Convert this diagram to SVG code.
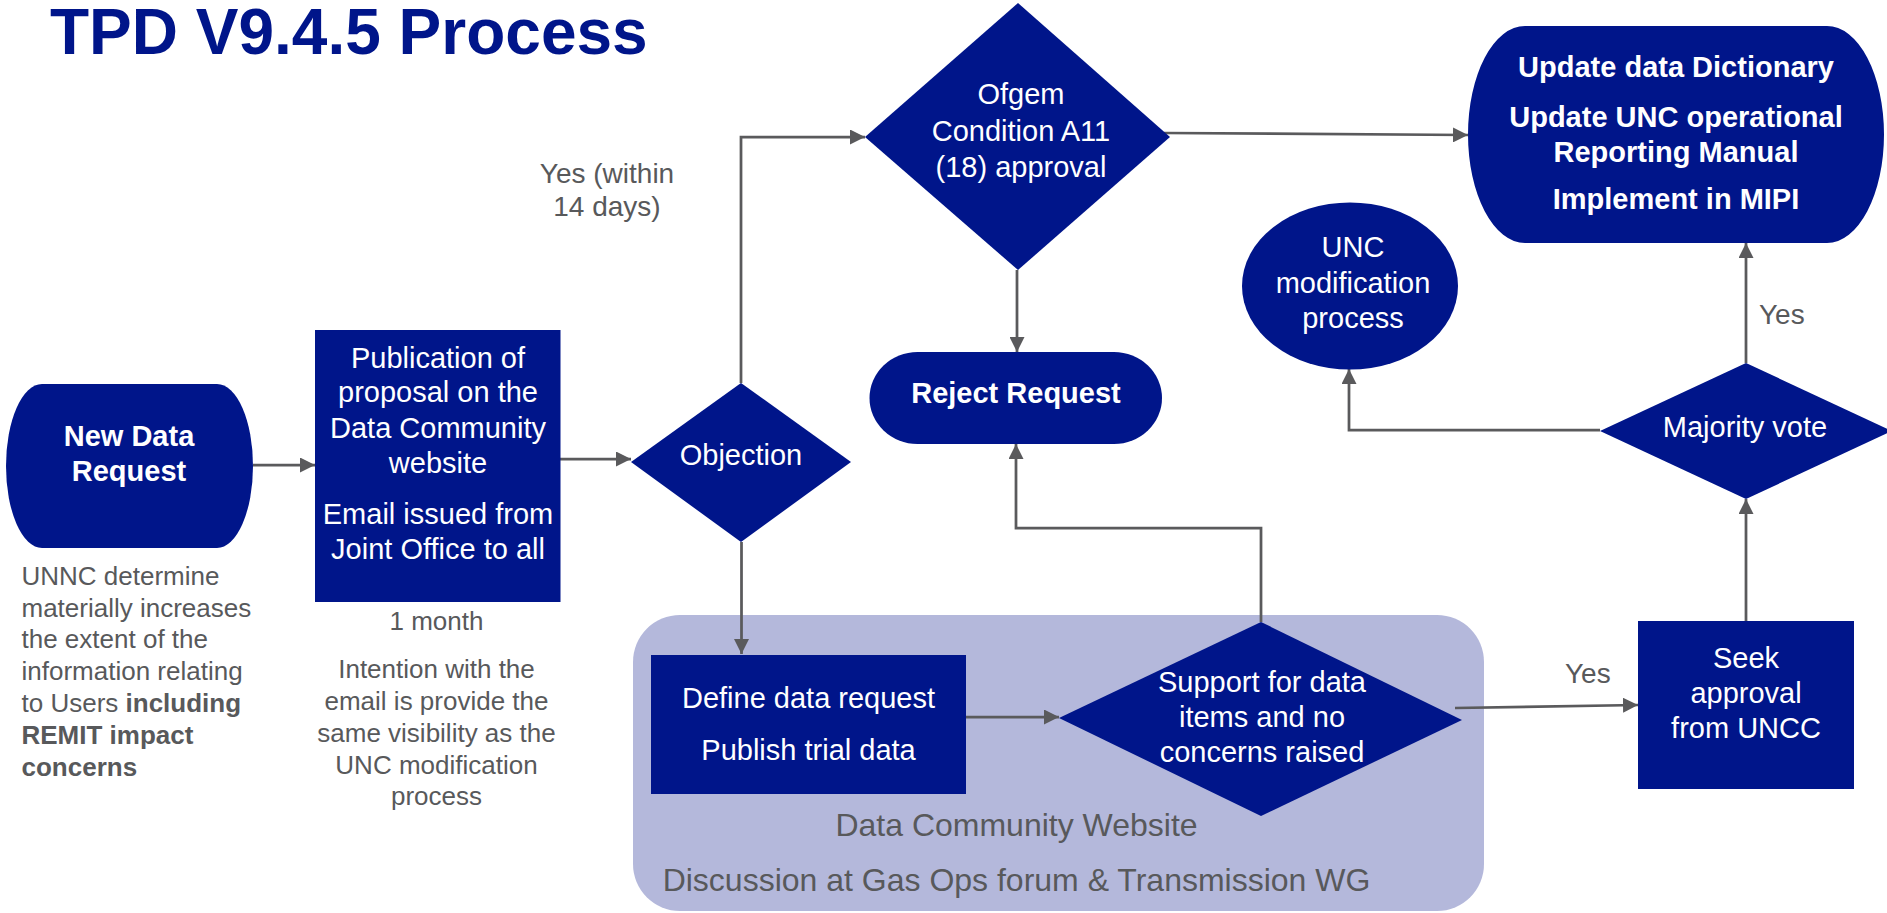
<svg xmlns="http://www.w3.org/2000/svg" width="1887" height="913" viewBox="0 0 1887 913">
<defs>
<style>
.n{fill:#00158a}
.t{font-family:"Liberation Sans",Arial,sans-serif;font-size:29px;fill:#ffffff;text-anchor:middle}
.b{font-weight:bold}
.g{font-family:"Liberation Sans",Arial,sans-serif;font-size:26px;fill:#58595b}
.big{font-family:"Liberation Sans",Arial,sans-serif;font-size:32px;fill:#58595b;text-anchor:middle}
.lbl{font-family:"Liberation Sans",Arial,sans-serif;font-size:28px;fill:#58595b}
.c{fill:none;stroke:#5a5a5c;stroke-width:2.75}
</style>
<marker id="ah" markerUnits="userSpaceOnUse" markerWidth="16" markerHeight="15" refX="15" refY="7.5" orient="auto">
<path d="M0,0 L15,7.5 L0,15 Z" fill="#5a5a5c"/>
</marker>
</defs>
<rect width="1887" height="913" fill="#ffffff"/>
<text x="50" y="54" font-family="Liberation Sans, Arial, sans-serif" font-size="64" font-weight="bold" fill="#00158a">TPD V9.4.5 Process</text>

<g id="data-community-website">
<rect x="633" y="615" width="851" height="296" rx="47" fill="#b4b8db"/>
<text class="big" x="1016.5" y="836">Data Community Website</text>
<text class="big" x="1016.5" y="891">Discussion at Gas Ops forum &amp; Transmission WG</text>
</g>

<g id="connectors">
<path class="c" d="M253,465 H315" marker-end="url(#ah)"/>
<path class="c" d="M560,459 H631" marker-end="url(#ah)"/>
<path class="c" d="M741,383 V137 H865" marker-end="url(#ah)"/>
<path class="c" d="M1017,270 V352" marker-end="url(#ah)"/>
<path class="c" d="M1164,133 L1468,135" marker-end="url(#ah)"/>
<path class="c" d="M741.5,542 V654" marker-end="url(#ah)"/>
<path class="c" d="M966,717 H1059" marker-end="url(#ah)"/>
<path class="c" d="M1261,622 V528 H1016 V444" marker-end="url(#ah)"/>
<path class="c" d="M1455,708 L1638,705" marker-end="url(#ah)"/>
<path class="c" d="M1746,621 V499" marker-end="url(#ah)"/>
<path class="c" d="M1746,363 V243" marker-end="url(#ah)"/>
<path class="c" d="M1600,430 H1349 V369" marker-end="url(#ah)"/>
<text class="lbl" x="607" y="183" text-anchor="middle">Yes (within</text>
<text class="lbl" x="607" y="216" text-anchor="middle">14 days)</text>
<text class="lbl" x="1759" y="324">Yes</text>
<text class="lbl" x="1565" y="683">Yes</text>
</g>

<g id="new-data-request">
<path class="n" d="M42,384 H217 A36,82 0 0 1 217,548 H42 A36,82 0 0 1 42,384 Z"/>
<text class="t b" x="129" y="446">New Data</text>
<text class="t b" x="129" y="481">Request</text>
</g>

<g id="unnc-note">
<text class="g" x="21.5" y="585">UNNC determine</text>
<text class="g" x="21.5" y="617">materially increases</text>
<text class="g" x="21.5" y="648">the extent of the</text>
<text class="g" x="21.5" y="680">information relating</text>
<text class="g" x="21.5" y="712">to Users <tspan font-weight="bold">including</tspan></text>
<text class="g" x="21.5" y="744" font-weight="bold">REMIT impact</text>
<text class="g" x="21.5" y="776" font-weight="bold">concerns</text>
</g>

<g id="publication">
<rect class="n" x="315" y="330" width="245.5" height="272"/>
<text class="t" x="438" y="368">Publication of</text>
<text class="t" x="438" y="402">proposal on the</text>
<text class="t" x="438" y="438">Data Community</text>
<text class="t" x="438" y="473">website</text>
<text class="t" x="438" y="524">Email issued from</text>
<text class="t" x="438" y="559">Joint Office to all</text>
</g>

<g id="publication-note">
<text class="g" x="436.5" y="630" text-anchor="middle">1 month</text>
<text class="g" x="436.5" y="678" text-anchor="middle">Intention with the</text>
<text class="g" x="436.5" y="710" text-anchor="middle">email is provide the</text>
<text class="g" x="436.5" y="742" text-anchor="middle">same visibility as the</text>
<text class="g" x="436.5" y="774" text-anchor="middle">UNC modification</text>
<text class="g" x="436.5" y="805" text-anchor="middle">process</text>
</g>

<g id="objection">
<polygon class="n" points="741,383 851,462 741,542 631,462"/>
<text class="t" x="741" y="465">Objection</text>
</g>

<g id="ofgem">
<polygon class="n" points="1018,3 1170,137 1018,270 865,137"/>
<text class="t" x="1021" y="104">Ofgem</text>
<text class="t" x="1021" y="141">Condition A11</text>
<text class="t" x="1021" y="177">(18) approval</text>
</g>

<g id="reject-request">
<rect class="n" x="869.5" y="352" width="292.5" height="92" rx="48" ry="46"/>
<text class="t b" x="1016" y="403">Reject Request</text>
</g>

<g id="update">
<path class="n" d="M1525,26 H1827 A57,108.5 0 0 1 1827,243 H1525 A57,108.5 0 0 1 1525,26 Z"/>
<text class="t b" x="1676" y="77">Update data Dictionary</text>
<text class="t b" x="1676" y="127">Update UNC operational</text>
<text class="t b" x="1676" y="162">Reporting Manual</text>
<text class="t b" x="1676" y="209">Implement in MIPI</text>
</g>

<g id="unc-modification">
<ellipse class="n" cx="1350" cy="286" rx="108" ry="83.5"/>
<text class="t" x="1353" y="257">UNC</text>
<text class="t" x="1353" y="293">modification</text>
<text class="t" x="1353" y="328">process</text>
</g>

<g id="majority-vote">
<polygon class="n" points="1746,363 1892,431 1746,499 1600,431"/>
<text class="t" x="1745" y="437">Majority vote</text>
</g>

<g id="seek-approval">
<rect class="n" x="1638" y="621" width="216" height="168"/>
<text class="t" x="1746" y="668">Seek</text>
<text class="t" x="1746" y="703">approval</text>
<text class="t" x="1746" y="738">from UNCC</text>
</g>

<g id="define">
<rect class="n" x="651" y="655" width="315" height="139"/>
<text class="t" x="808.5" y="708">Define data request</text>
<text class="t" x="808.5" y="760">Publish trial data</text>
</g>

<g id="support">
<polygon class="n" points="1261,622 1462,720 1261,816 1059,718"/>
<text class="t" x="1262" y="692">Support for data</text>
<text class="t" x="1262" y="727">items and no</text>
<text class="t" x="1262" y="762">concerns raised</text>
</g>
</svg>
